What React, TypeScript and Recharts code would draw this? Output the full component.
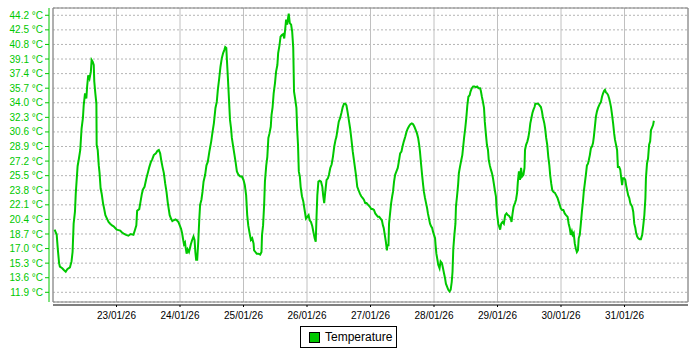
import React from "react";
import {
  LineChart,
  Line,
  XAxis,
  YAxis,
  CartesianGrid,
  Legend,
  ReferenceArea,
} from "recharts";

// hours since 22/01/26 00:00
const hours: number[] = [
  0.6, 1.4, 1.8, 2.3, 2.6, 3.5, 4.1, 4.8, 5.4, 6.4, 7.0, 7.4, 7.8, 8.3, 8.6, 9.3, 9.8, 10.3, 10.8, 11.3,
  11.6, 12.1, 12.6, 12.9, 13.3, 13.8, 14.3, 14.6, 15.0, 15.4, 15.6, 16.0, 16.4, 16.5, 16.9, 17.3, 17.6, 18.0, 18.4, 18.9,
  19.3, 19.8, 20.4, 21.0, 21.6, 22.3, 22.9, 23.5, 24.1, 25.4, 26.0, 26.9, 27.6, 28.5, 29.4, 30.4, 31.0, 31.5, 31.8, 32.6,
  33.1, 33.6, 34.0, 34.6, 35.3, 35.9, 36.4, 37.0, 37.5, 38.1, 38.9, 39.5, 40.0, 40.5, 40.9, 41.4, 41.9, 42.4, 42.9, 43.4,
  43.8, 44.1, 44.6, 45.1, 45.6, 46.3, 46.8, 47.4, 47.9, 48.4, 48.8, 49.1, 49.5, 49.9, 50.1, 50.5, 50.9, 51.4, 51.8, 52.1,
  52.6, 53.1, 53.5, 53.8, 54.1, 54.5, 54.9, 55.3, 55.6, 56.1, 56.5, 56.9,
  57.5, 58.0, 58.5, 59.1, 59.8, 60.3, 60.8, 61.4, 61.9, 62.3, 62.8, 63.3, 63.8, 64.3, 64.8, 65.1, 65.5, 65.8, 66.1, 66.5,
  66.9, 67.3, 67.6, 68.0, 68.5, 69.0, 69.5, 70.1, 70.8, 71.4, 72.0, 72.5, 73.0, 73.4, 73.8, 74.3, 74.8, 75.3, 75.8, 76.0,
  76.5, 77.0, 77.6, 78.3, 78.8, 79.0, 79.4, 79.8, 80.1, 80.6, 81.0, 81.4, 81.8, 82.3, 82.6, 83.0, 83.4, 83.9, 84.3, 84.8,
  85.1, 85.6, 86.0, 86.5, 87.0, 87.4, 87.8, 88.1, 88.5, 88.9, 89.1, 89.5, 90.0, 90.4, 90.8, 91.1, 91.5, 92.0, 92.3, 92.6,
  92.9, 93.3, 93.6, 94.1, 94.6, 95.1, 95.6, 96.1, 96.6, 97.0, 97.5, 98.0, 98.5, 98.9, 99.3, 99.6, 99.9, 100.3, 100.8, 101.3,
  101.8, 102.1, 102.5, 102.9, 103.4, 103.9, 104.3, 104.8, 105.3, 105.8, 106.3, 106.8, 107.1, 107.6, 108.0, 108.5, 109.0, 109.5, 110.0, 110.5,
  110.9, 111.3, 111.8, 112.3, 112.8, 113.3,
  114.5, 115.0, 115.5, 116.0, 116.5, 117.0, 117.5, 118.0, 118.5, 119.1, 119.7, 120.3, 120.8, 121.3, 121.8, 122.3, 122.8, 123.3, 123.8, 124.3,
  124.7, 125.0, 125.4, 125.8, 126.2, 126.4, 126.8, 127.0, 127.4, 127.8, 128.2, 128.5, 128.9, 129.3, 129.8, 130.3, 130.7, 131.2, 131.7, 132.1,
  132.6, 133.1, 133.6, 134.1, 134.6, 135.1, 135.6, 136.1, 136.6, 137.1, 137.6, 138.0, 138.4, 138.7, 139.1, 139.5, 139.9, 140.2, 140.6, 141.0,
  141.4, 141.7, 142.1, 142.5, 142.9, 143.3, 143.6, 144.0, 144.4, 144.6, 144.9, 145.3, 145.6, 146.1, 146.5, 147.0, 147.4, 147.8, 148.2, 148.5,
  148.9, 149.4, 149.9, 150.3, 150.7, 151.0, 151.3, 151.7, 152.1, 152.3, 152.7, 153.1, 153.4, 153.8, 154.3, 154.7, 155.1, 155.4, 155.8, 156.2,
  156.6, 157.0, 157.5, 157.8, 158.3, 158.8, 159.3, 159.8, 160.3, 160.9, 161.4, 161.7, 162.1, 162.5, 162.9, 163.2, 163.6, 164.0, 164.4, 164.7,
  165.1, 165.5, 165.9, 166.3, 166.6, 167.0, 167.4, 167.6, 167.9, 168.3, 168.6, 169.0, 169.4, 169.9, 170.4,
  170.9, 171.4, 171.9, 172.4, 173.0, 173.3, 173.7, 174.1, 174.6, 175.0, 175.4, 175.7, 176.1, 176.5, 176.9, 177.3, 177.8, 178.2, 178.4, 178.8,
  179.3, 179.7, 180.1, 180.4, 180.8, 181.2, 181.6, 182.0, 182.3, 182.9, 183.4, 183.9, 184.4, 184.8, 185.1, 185.7, 186.0, 186.4, 186.8, 187.2,
  187.6, 187.9, 188.3, 188.7, 189.2, 189.7, 190.2, 190.7, 191.1, 191.5, 191.9, 192.4, 192.9, 193.4, 193.9, 194.5, 194.9, 195.3, 195.7, 196.1,
  196.4, 196.8, 197.2, 197.6, 198.0, 198.4, 198.7, 199.1, 199.5, 199.9, 200.3, 200.6, 201.0, 201.4, 201.8, 202.2, 202.5, 202.9, 203.3, 203.7,
  204.1, 204.4, 204.8, 205.2, 205.6, 206.0, 206.4, 206.7, 207.1, 207.5, 207.9, 208.3, 208.6, 209.0, 209.4, 209.8, 210.2, 210.5, 210.9, 211.3,
  211.7, 212.1, 212.4, 212.8, 213.2, 213.5, 214.0, 214.4, 214.7, 215.1, 215.4, 215.9, 216.3, 216.6, 217.0, 217.4, 217.8, 218.2, 218.5, 218.9,
  219.3, 219.7, 220.1, 220.4, 220.8, 221.2, 221.7, 222.2, 222.7, 223.1, 223.5, 223.9, 224.1, 224.5, 224.9, 225.3, 225.7, 226.0, 226.4, 226.8,
  227.1,
];

const temperature: number[] = [
  19.2, 18.6, 17.0, 15.3, 14.9, 14.7, 14.5, 14.3, 14.6, 14.8, 15.5, 16.6, 19.9, 21.3, 23.4, 26.6, 27.5, 28.5, 31.0, 32.2,
  33.7, 35.1, 34.5, 35.9, 37.2, 36.8, 37.6, 39.0, 38.8, 38.4, 36.5, 35.1, 33.9, 29.1, 28.5, 26.7, 25.8, 24.0, 23.4, 22.3,
  21.7, 20.9, 20.5, 20.1, 19.9, 19.7, 19.6, 19.4, 19.2, 19.1, 18.9, 18.7, 18.6, 18.5, 18.7, 18.6, 19.2, 19.7, 21.4, 21.6,
  22.5, 23.4, 23.9, 24.2, 25.2, 25.9, 26.5, 27.1, 27.4, 27.9, 28.1, 28.4, 28.5, 28.1, 27.3, 26.5, 25.8, 24.6, 23.6, 22.3,
  21.5, 20.9, 20.5, 20.2, 20.3, 20.4, 20.3, 20.1, 19.7, 19.3, 18.8, 18.2, 17.5, 17.7, 17.2, 16.4, 16.9, 16.6, 17.1, 17.5,
  18.0, 18.4, 18.0, 16.6, 15.7, 15.7, 17.8, 20.5, 22.1, 22.7, 23.6, 24.8,
  25.6, 26.7, 27.1, 28.3, 29.5, 30.6, 31.6, 33.4, 34.1, 35.5, 36.8, 38.2, 39.2, 39.8, 40.2, 40.5, 40.4, 38.6, 36.9, 34.5,
  32.0, 31.0, 29.9, 29.1, 28.1, 27.1, 26.0, 25.6, 25.4, 25.4, 25.0, 24.4, 23.2, 20.9, 19.7, 18.8, 18.0, 18.2, 17.6, 16.8,
  16.6, 16.4, 16.4, 16.3, 16.6, 18.6, 19.7, 22.1, 24.8, 26.7, 27.7, 29.9, 30.4, 31.2, 32.6, 33.5, 35.1, 36.3, 37.6, 38.4,
  39.8, 40.7, 41.7, 41.9, 42.0, 41.5, 42.7, 43.7, 43.1, 44.0, 44.4, 43.3, 43.1, 42.3, 40.4, 35.3, 34.5, 33.4, 30.8, 29.1,
  26.0, 25.4, 24.2, 23.1, 22.5, 21.5, 20.5, 20.7, 20.9, 20.3, 20.1, 19.6, 18.8, 18.2, 17.8, 20.7, 23.2, 24.8, 24.9, 24.8,
  24.2, 23.2, 22.3, 23.6, 25.0, 25.2, 25.6, 26.4, 26.8, 27.7, 28.9, 29.7, 30.0, 31.0, 31.8, 32.2, 32.8, 33.5, 33.9, 33.9,
  33.7, 33.0, 32.0, 31.0, 29.7, 28.3,
  25.6, 24.2, 23.8, 23.4, 23.1, 22.9, 22.7, 22.3, 22.3, 22.1, 21.9, 21.6, 21.6, 21.5, 21.1, 20.9, 20.7, 20.7, 20.5, 20.3,
  19.7, 19.4, 18.6, 17.8, 16.8, 17.4, 17.4, 19.9, 21.1, 22.3, 23.1, 23.6, 24.8, 25.6, 26.0, 26.4, 27.1, 28.1, 28.3, 28.9,
  29.5, 30.0, 30.6, 31.0, 31.3, 31.5, 31.6, 31.5, 31.2, 30.8, 30.4, 29.9, 29.1, 28.3, 26.9, 25.6, 24.4, 23.6, 22.9, 22.3,
  21.7, 21.1, 20.5, 19.9, 19.6, 19.4, 19.0, 18.6, 18.2, 17.4, 16.4, 15.7, 15.1, 14.7, 15.5, 15.3, 14.7, 14.1, 13.5, 12.9,
  12.6, 12.2, 12.0, 12.2, 13.1, 14.3, 17.0, 18.6, 19.9, 21.9, 23.1, 24.4, 25.8, 26.5, 27.3, 27.9, 29.1, 30.0, 31.0, 32.2,
  33.7, 34.7, 34.9, 35.3, 35.7, 35.9, 35.9, 35.8, 35.9, 35.7, 35.7, 35.4, 34.7, 34.1, 33.4, 31.8, 30.4, 29.1, 28.5, 27.3,
  26.7, 26.2, 25.8, 25.2, 24.6, 23.8, 23.1, 21.9, 20.9, 19.9, 19.6, 19.2, 19.9, 20.1, 19.9,
  20.9, 21.1, 20.9, 20.8, 20.5, 20.1, 21.1, 21.9, 22.3, 22.7, 23.5, 24.8, 26.0, 25.0, 26.4, 25.4, 25.6, 26.4, 28.5, 29.1,
  29.5, 30.0, 30.8, 31.6, 32.2, 32.8, 33.2, 33.5, 33.9, 33.9, 33.9, 33.7, 33.5, 33.0, 32.4, 31.6, 31.0, 29.9, 29.1, 27.7,
  26.7, 25.6, 24.6, 23.8, 23.6, 23.5, 23.2, 22.9, 22.5, 22.1, 21.7, 21.5, 21.5, 21.1, 20.9, 20.7, 19.9, 19.4, 18.6, 19.0,
  18.6, 18.8, 17.6, 17.0, 16.6, 16.8, 18.2, 18.6, 19.9, 21.3, 22.5, 23.6, 24.6, 25.6, 26.7, 26.9, 27.3, 27.9, 28.7, 28.9,
  29.3, 30.0, 31.2, 32.4, 33.0, 33.4, 33.7, 33.9, 34.1, 34.7, 35.1, 35.4, 35.5, 35.2, 35.1, 34.9, 34.5, 34.1, 33.5, 32.6,
  31.6, 30.4, 29.7, 29.1, 28.5, 26.5, 26.5, 26.2, 25.4, 24.4, 25.2, 25.2, 25.0, 24.4, 23.8, 23.2, 22.9, 22.3, 22.1, 21.9,
  21.3, 19.9, 19.4, 18.8, 18.4, 18.2, 18.1, 18.1, 18.6, 19.7, 20.9, 22.9, 25.2, 26.9, 27.5, 29.1, 29.5, 30.8, 31.1, 31.4,
  31.9,
];

const yTicks: number[] = [
  11.9, 13.6, 15.3, 17.0, 18.7, 20.4, 22.1, 23.8, 25.5, 27.2, 28.9, 30.6, 32.3, 34.0, 35.7, 37.4, 39.1, 40.8, 42.5, 44.2,
];
const xTicks: number[] = [24, 48, 72, 96, 120, 144, 168, 192, 216];
const xLabels: string[] = [
  "23/01/26", "24/01/26", "25/01/26", "26/01/26", "27/01/26", "28/01/26", "29/01/26", "30/01/26", "31/01/26",
];
const seriesName = "Temperature";

const data = hours.map((h, i) => ({ h, t: temperature[i] }));

const GREEN = "#00c800";
const FONT = '"Liberation Sans", Arial, sans-serif';
const Y_MIN = 10.77;
const Y_MAX = 45.05;

const LegendBox = () => (
  <div
    style={{
      display: "inline-flex",
      alignItems: "center",
      boxSizing: "border-box",
      border: "1px solid #000",
      height: 22,
      padding: "0 4px 0 8px",
      fontFamily: FONT,
      fontSize: 12,
      color: "#000",
      background: "#fff",
    }}
  >
    <span
      style={{
        display: "inline-block",
        boxSizing: "border-box",
        width: 11,
        height: 11,
        background: GREEN,
        border: "1px solid #000",
        marginRight: 5,
      }}
    />
    <span>{seriesName}</span>
  </div>
);

export default function App() {
  return (
    <div style={{ position: "absolute", left: 0, top: 0, width: 700, height: 350, background: "#fff" }}>
      <LineChart width={700} height={350} data={data} margin={{ top: 8, right: 12, bottom: 0, left: 0 }}>
        <CartesianGrid vertical={false} stroke="#b4b4b4" strokeDasharray="2 2" />
        <CartesianGrid horizontal={false} stroke="#c0c0c0" />
        <XAxis
          dataKey="h"
          type="number"
          domain={[0, 240]}
          ticks={xTicks}
          interval={0}
          allowDataOverflow
          height={48}
          tickFormatter={(v: number) => xLabels[xTicks.indexOf(v)] ?? ""}
          tick={{ fill: "#000", fontSize: 10, fontFamily: FONT }}
          axisLine={{ stroke: "#000", transform: "translate(0,3)" }}
          tickLine={{ stroke: "#000", transform: "translate(0,3)" }}
          tickSize={2}
          tickMargin={8}
        />
        <YAxis
          type="number"
          domain={[Y_MIN, Y_MAX]}
          ticks={yTicks}
          interval={0}
          allowDataOverflow
          width={53}
          tickFormatter={(v: number) => `${v.toFixed(1)} °C`}
          tick={{ fill: GREEN, fontSize: 10, fontFamily: FONT }}
          axisLine={{ stroke: GREEN, transform: "translate(-4,0)" }}
          tickLine={{ stroke: GREEN, transform: "translate(-4,0)" }}
          tickSize={4}
          tickMargin={6}
        />
        <ReferenceArea x1={0} x2={240} y1={Y_MIN} y2={Y_MAX} fill="none" stroke="#808080" strokeWidth={1} ifOverflow="visible" />
        <Line
          type="linear"
          dataKey="t"
          name={seriesName}
          stroke={GREEN}
          strokeWidth={2}
          dot={false}
          isAnimationActive={false}
        />
        <Legend
          layout="horizontal"
          verticalAlign="middle"
          align="center"
          content={() => <LegendBox />}
          wrapperStyle={{ left: 300, top: 326, width: "auto", height: "auto", lineHeight: "normal" }}
        />
      </LineChart>
    </div>
  );
}
